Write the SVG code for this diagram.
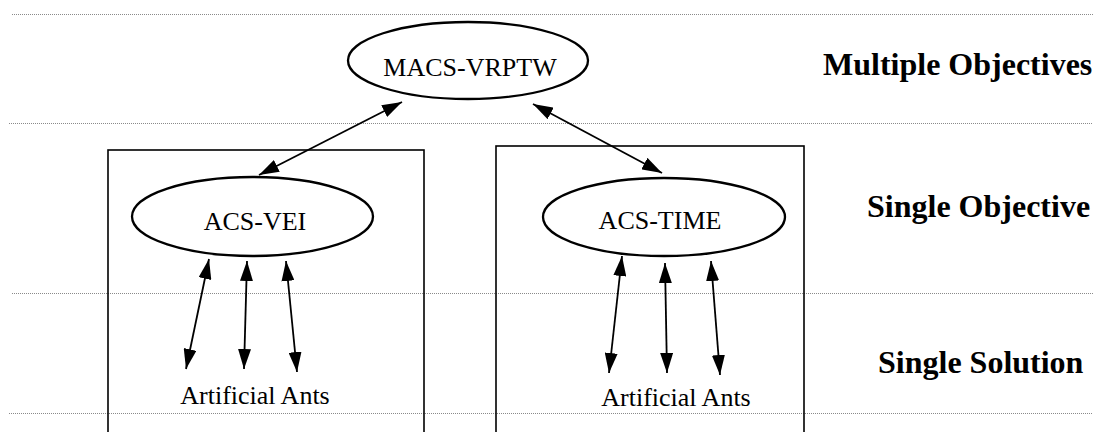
<svg xmlns="http://www.w3.org/2000/svg" width="1093" height="432" viewBox="0 0 1093 432">
<style>
.sep{stroke:#8a8a8a;stroke-width:1;stroke-dasharray:1 1;fill:none}
.box{fill:none;stroke:#000;stroke-width:1.6}
.node{fill:#fff;stroke:#000;stroke-width:2.3}
.lbl{font-family:"Liberation Serif","Times New Roman",serif;font-size:26px;fill:#000;text-anchor:middle}
.level{font-family:"Liberation Serif","Times New Roman",serif;font-size:32px;font-weight:bold;fill:#000}
.conn{stroke:#000;stroke-width:1.8;fill:none;marker-start:url(#ah);marker-end:url(#ah)}
</style>
<defs>
<marker id="ah" markerUnits="userSpaceOnUse" markerWidth="20" markerHeight="13" refX="20" refY="6.5" orient="auto-start-reverse" viewBox="0 0 20 13">
<path d="M0,0 L20,6.5 L0,13 z" fill="#000"/>
</marker>
</defs>
<rect width="1093" height="432" fill="#fff"/>
<g id="separators">
<line class="sep" x1="12" y1="14.5" x2="1093" y2="14.5"/>
<line class="sep" x1="9" y1="123.5" x2="1093" y2="123.5"/>
<line class="sep" x1="12" y1="293.5" x2="1093" y2="293.5"/>
<line class="sep" x1="9" y1="413.5" x2="1093" y2="413.5"/>
</g>
<g id="box-vei"><rect class="box" x="108" y="150" width="316" height="300"/></g>
<g id="box-time"><rect class="box" x="496" y="146" width="308" height="300"/></g>
<g id="levels">
<text class="level" x="823" y="75">Multiple Objectives</text>
<text class="level" x="867" y="217">Single Objective</text>
<text class="level" x="878" y="373">Single Solution</text>
</g>
<g id="connectors">
<line class="conn" x1="402" y1="102" x2="259" y2="175"/>
<line class="conn" x1="533" y1="104" x2="662" y2="173"/>
<line class="conn" x1="209" y1="259" x2="186" y2="369"/>
<line class="conn" x1="247" y1="261" x2="244" y2="369"/>
<line class="conn" x1="286" y1="261" x2="297" y2="372"/>
<line class="conn" x1="622" y1="256" x2="609" y2="373"/>
<line class="conn" x1="665" y1="263" x2="667" y2="373"/>
<line class="conn" x1="711" y1="261" x2="720" y2="375"/>
</g>
<g id="macs-vrptw">
<ellipse class="node" cx="468" cy="60.5" rx="120" ry="38.5"/>
<text class="lbl" x="470" y="76">MACS-VRPTW</text>
</g>
<g id="acs-vei">
<ellipse class="node" cx="252.5" cy="216.5" rx="120.5" ry="39.5"/>
<text class="lbl" x="255" y="230">ACS-VEI</text>
</g>
<g id="acs-time">
<ellipse class="node" cx="664" cy="217" rx="121" ry="39"/>
<text class="lbl" x="660" y="229">ACS-TIME</text>
</g>
<g id="ants-vei"><text class="lbl" x="255" y="404">Artificial Ants</text></g>
<g id="ants-time"><text class="lbl" x="676" y="406">Artificial Ants</text></g>
</svg>
